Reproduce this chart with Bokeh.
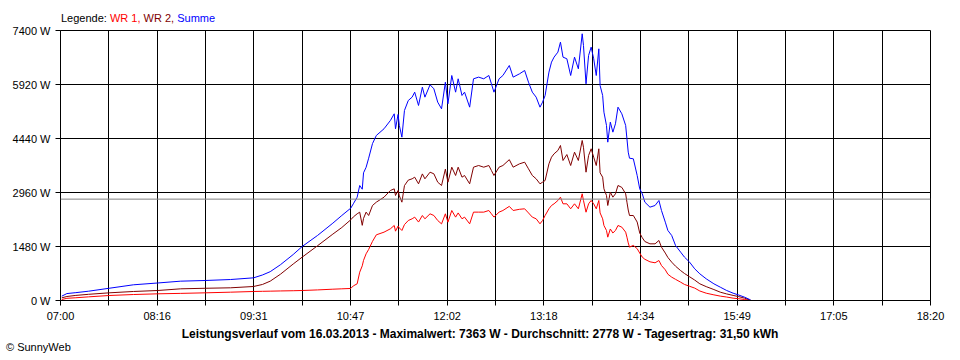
from bokeh.plotting import figure
from bokeh.models import Range1d, FixedTicker, Span, Div
from bokeh.layouts import column
from bokeh.embed import file_html
from bokeh.resources import INLINE

# ---------------- data ----------------
times = [
    "07:01", "07:05", "07:12", "07:22", "07:38", "07:57", "08:16", "08:34", "08:53", "09:13",
    "09:31", "09:38", "09:44", "09:52", "10:02", "10:09", "10:21", "10:33", "10:40", "10:47",
    "10:49", "10:52", "10:54", "10:56", "10:57", "10:59", "11:01", "11:04", "11:07", "11:13",
    "11:18", "11:21", "11:22", "11:24", "11:25", "11:27", "11:29", "11:32", "11:35", "11:37",
    "11:40", "11:43", "11:45", "11:49", "11:52", "11:55", "11:58", "12:01", "12:03", "12:06",
    "12:09", "12:11", "12:14", "12:16", "12:20", "12:23", "12:27", "12:31", "12:35", "12:37",
    "12:39", "12:43", "12:46", "12:51", "12:54", "12:59", "13:03", "13:06", "13:09", "13:12",
    "13:15", "13:17", "13:19", "13:22", "13:24", "13:26", "13:29", "13:31", "13:33", "13:36",
    "13:39", "13:42", "13:45", "13:48", "13:49", "13:51", "13:53", "13:55", "13:57", "13:59",
    "14:01", "14:02", "14:04", "14:05", "14:07", "14:08", "14:10", "14:12", "14:14", "14:16",
    "14:19", "14:22", "14:23", "14:24", "14:25", "14:28", "14:31", "14:33", "14:35", "14:37",
    "14:41", "14:45", "14:48", "14:50", "14:53", "14:55", "14:58", "15:01", "15:05", "15:08",
    "15:12", "15:16", "15:20", "15:25", "15:31", "15:36", "15:41", "15:46", "15:50", "15:55",
    "15:59", "16:00",
]

wr1 = [
    27, 60, 75, 100, 137, 164, 183, 195, 210, 228,
    247, 252, 256, 262, 268, 274, 290, 310, 320, 330,
    400, 457, 776, 950, 1100, 1280, 1400, 1620, 1800, 1873,
    1965, 2056, 1900, 2040, 1990, 1919, 2080, 2193, 2239, 2285,
    2150, 2330, 2239, 2376, 2330, 2193, 2100, 2376, 2147, 2467,
    2285, 2400, 2240, 2285, 2101, 2422, 2422, 2422, 2467, 2376,
    2285, 2422, 2467, 2580, 2467, 2500, 2513, 2400, 2285, 2239,
    2102, 2193, 2330, 2513, 2604, 2650, 2741, 2832, 2650, 2650,
    2513, 2650, 2513, 2924, 2741, 2420, 2650, 2741, 2650, 2513,
    2741, 2400, 2239, 2056, 1919, 1736, 1960, 1850, 1919, 2056,
    2010, 1873, 1736, 1580, 1462, 1510, 1420, 1300, 1188, 1130,
    1060, 1033, 1096, 959, 840, 720, 640, 580, 502, 440,
    390, 340, 260, 200, 155, 120, 95, 64, 50, 27,
    5, 0,
]

wr2 = [
    73, 110, 140, 170, 210, 247, 274, 320, 335, 348,
    384, 440, 530, 720, 1000, 1188, 1500, 1820, 2000, 2212,
    2290, 2376, 2420, 2060, 2250, 2422, 2330, 2604, 2695, 2832,
    3015, 3060, 2878, 3015, 2870, 2695, 3150, 3300, 3335, 3380,
    3198, 3470, 3335, 3517, 3472, 3243, 3152, 3600, 3243, 3654,
    3426, 3654, 3380, 3426, 3198, 3654, 3700, 3654, 3700, 3563,
    3426, 3654, 3700, 3860, 3654, 3746, 3791, 3609, 3426, 3335,
    3198, 3243, 3289, 3746, 3928, 4020, 4112, 4249, 3837, 4000,
    3700, 4066, 3837, 4386, 4200, 3517, 3974, 4158, 3928, 3700,
    4158, 3500, 3380, 3061, 2878, 2604, 2969, 2832, 2924, 3152,
    3100, 2924, 2695, 2480, 2330, 2330, 2150, 1850, 1720, 1617,
    1553, 1553, 1645, 1462, 1300, 1180, 1051, 940, 820, 740,
    650, 560, 457, 380, 300, 228, 180, 140, 110, 64,
    15, 0,
]

summe = [
    119, 190, 215, 255, 335, 430, 480, 530, 548, 575,
    621, 700, 790, 980, 1261, 1480, 1782, 2120, 2330, 2531,
    2650, 2830, 3152, 3050, 3500, 3650, 3900, 4300, 4523, 4706,
    4934, 5117, 4706, 5100, 4797, 4477, 5208, 5482, 5573, 5710,
    5345, 5847, 5573, 5912, 5802, 5436, 5254, 5984, 5391, 6167,
    5710, 6076, 5619, 5710, 5299, 6076, 6122, 6076, 6167, 5939,
    5710, 6076, 6167, 6441, 6122, 6213, 6304, 5984, 5710, 5573,
    5299, 5436, 5619, 6259, 6533, 6670, 6807, 7081, 6670, 6625,
    6167, 6670, 6350, 7310, 6990, 5939, 6716, 6944, 6625, 6167,
    6898, 5893, 5619, 5162, 4797, 4340, 4888, 4614, 4843, 5299,
    5117, 4797, 4432, 4066, 3900, 3883, 3426, 3061, 2924, 2695,
    2558, 2604, 2741, 2467, 2147, 1919, 1782, 1508, 1325, 1188,
    1051, 868, 731, 594, 457, 365, 274, 201, 155, 91,
    27, 0,
]

x_tick_labels = ["07:00", "08:16", "09:31", "10:47", "12:02",
                 "13:18", "14:34", "15:49", "17:05", "18:20"]
y_ticks = [0, 1480, 2960, 4440, 5920, 7400]
average_w = 2778
series_names = ["WR 1", "WR 2", "Summe"]
series_colors = ["#FF0000", "#800000", "#0000FF"]
title_text = ("Leistungsverlauf vom 16.03.2013 - Maximalwert: 7363 W - "
              "Durchschnitt: 2778 W - Tagesertrag: 31,50 kWh")
credit_text = "\u00a9 SunnyWeb"

# ---------------- helpers ----------------
def to_min(hhmm):
    h, m = hhmm.split(":")
    return int(h) * 60 + int(m) - 7 * 60

xs = [to_min(t) for t in times]
x_end = 680.4                      # 07:00 .. 18:20.4
major_step = x_end / (len(x_tick_labels) - 1)
major_ticks = [i * major_step for i in range(len(x_tick_labels))]
minor_ticks = [(i + 0.5) * major_step for i in range(len(x_tick_labels) - 1)]

FONT = "Liberation Sans"

p = figure(width=960, height=304, output_backend="svg", toolbar_location=None,
           x_range=Range1d(0, x_end), y_range=Range1d(0, 7400),
           min_border_left=60, min_border_right=30,
           min_border_top=8, min_border_bottom=26)
p.background_fill_color = "white"
p.border_fill_color = None
p.outline_line_color = "black"
p.outline_line_alpha = 1.0
p.outline_line_width = 1

# x axis
xt = FixedTicker(ticks=major_ticks, minor_ticks=minor_ticks)
p.xaxis.ticker = xt
p.xaxis.major_label_overrides = {t: lab for t, lab in zip(major_ticks, x_tick_labels)}
p.xaxis.axis_line_color = "black"
p.xaxis.major_tick_line_color = "black"
p.xaxis.minor_tick_line_color = "black"
p.xaxis.major_tick_in = 0
p.xaxis.major_tick_out = 5
p.xaxis.minor_tick_in = 0
p.xaxis.minor_tick_out = 5
p.xaxis.major_label_standoff = 4
p.xaxis.major_label_text_font = FONT
p.xaxis.major_label_text_font_size = "11px"
p.xaxis.major_label_text_color = "black"

# y axis
yt = FixedTicker(ticks=y_ticks, minor_ticks=[])
p.yaxis.ticker = yt
p.yaxis.major_label_overrides = {v: f"{v} W" for v in y_ticks}
p.yaxis.axis_line_color = "black"
p.yaxis.major_tick_line_color = "black"
p.yaxis.major_tick_in = 0
p.yaxis.major_tick_out = 5
p.yaxis.minor_tick_line_color = None
p.yaxis.major_label_standoff = 5
p.yaxis.major_label_text_font = FONT
p.yaxis.major_label_text_font_size = "11px"
p.yaxis.major_label_text_color = "black"

# grid
p.xgrid.ticker = xt
p.xgrid.grid_line_color = "black"
p.xgrid.grid_line_alpha = 1.0
p.xgrid.minor_grid_line_color = "black"
p.xgrid.minor_grid_line_alpha = 1.0
p.ygrid.ticker = yt
p.ygrid.grid_line_color = "black"
p.ygrid.grid_line_alpha = 1.0

# average line
p.add_layout(Span(location=average_w, dimension="width",
                  line_color="#808080", line_width=1))

# series
for ys, col in zip([wr1, wr2, summe], series_colors):
    p.line(xs, ys, line_color=col, line_width=1)

# legend text (HTML above the plot)
parts = []
for i, (nm, col) in enumerate(zip(series_names, series_colors)):
    sep = "," if i < len(series_names) - 1 else ""
    parts.append(f'<span style="color:{col}">{nm}{sep}</span>')
legend_html = (
    f'<div style="padding-left:61px;padding-top:12px;line-height:12px;'
    f"font-family:'{FONT}';font-size:11px;color:black;white-space:nowrap\">"
    "Legende: " + " ".join(parts) + "</div>"
)
top_div = Div(text=legend_html, width=960, height=22, margin=(0, 0, 0, 0))

bottom_html = (
    f"<div style=\"font-family:'{FONT}';color:black;width:960px\">"
    '<div style="line-height:16px;font-size:12px;font-weight:bold;'
    f'text-align:center;white-space:nowrap">{title_text}</div>'
    '<div style="line-height:11px;font-size:11px;padding-left:6px;'
    f'white-space:nowrap">{credit_text}</div>'
    "</div>"
)
bottom_div = Div(text=bottom_html, width=960, height=34, margin=(0, 0, 0, 0))

layout = column(top_div, p, bottom_div, spacing=0)

open("out.html", "w").write(file_html(layout, INLINE))
